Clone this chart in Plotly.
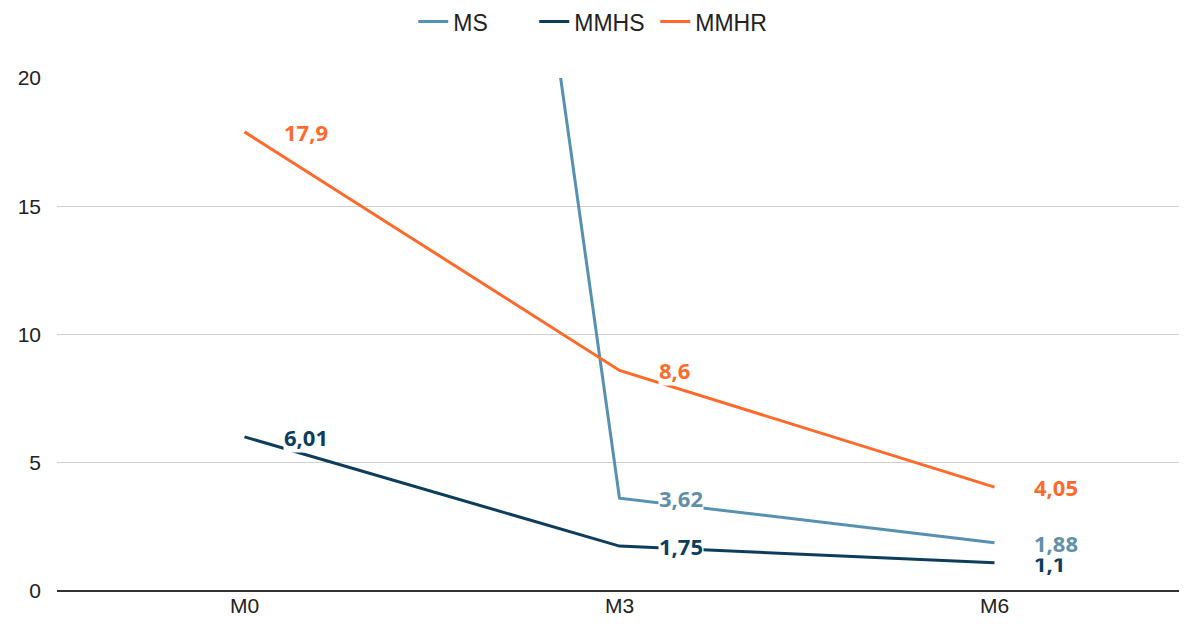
import plotly.graph_objects as go

categories = ["M0", "M3", "M6"]
ms = [108.0, 3.62, 1.88]
mmhs = [6.01, 1.75, 1.1]
mmhr = [17.9, 8.6, 4.05]
y_ticks = [0, 5, 10, 15, 20]
y_max = 20

series = [
    ("MS", ms, "#5690b3", "#5f90a8"),
    ("MMHS", mmhs, "#0c3d5b", "#0c3d5b"),
    ("MMHR", mmhr, "#ff6a2b", "#ff6a2b"),
]

fig = go.Figure()
label_groups = {}
for name, vals, color, lab_color in series:
    fig.add_trace(go.Scatter(
        x=categories, y=vals, name=name, mode="lines",
        line=dict(color=color, width=3),
    ))
    label_groups[name] = []
    for c, v in zip(categories, vals):
        if v > y_max:
            continue
        label_groups[name].append(dict(
            x=c, y=v, xref="x", yref="y",
            text=f"{v:g}".replace(".", ","),
            showarrow=False, xanchor="left", yanchor="middle",
            xshift=38, bgcolor="white", borderpad=0,
            font=dict(family="Open Sans", size=22, color=lab_color, weight="bold"),
        ))

annotations = label_groups["MMHS"] + label_groups["MMHR"] + label_groups["MS"]

fig.update_layout(
    width=1179, height=627,
    margin=dict(l=49, r=5, t=70, b=44, autoexpand=False),
    paper_bgcolor="white", plot_bgcolor="white",
    font=dict(family="Liberation Sans, Arial, sans-serif", size=21, color="#222"),
    legend=dict(orientation="h", x=0.478, xanchor="center", y=1.11, yanchor="middle",
                font=dict(size=23, color="#222"), entrywidth=76, entrywidthmode="pixels"),
    annotations=annotations,
    showlegend=True,
)
fig.update_xaxes(range=[-0.5, 2.5], showgrid=False, ticks="", tickfont=dict(size=21, color="#222"),
                 showline=False, zeroline=False, automargin=False)
fig.update_yaxes(range=[0, y_max], tickvals=y_ticks, showgrid=True, gridcolor="#d0d0d0",
                 gridwidth=1, zeroline=True, zerolinecolor="#333", zerolinewidth=2,
                 tickfont=dict(size=21, color="#222"), ticks="", ticklabelstandoff=15,
                 automargin=False)

fig.write_html("out.html")
